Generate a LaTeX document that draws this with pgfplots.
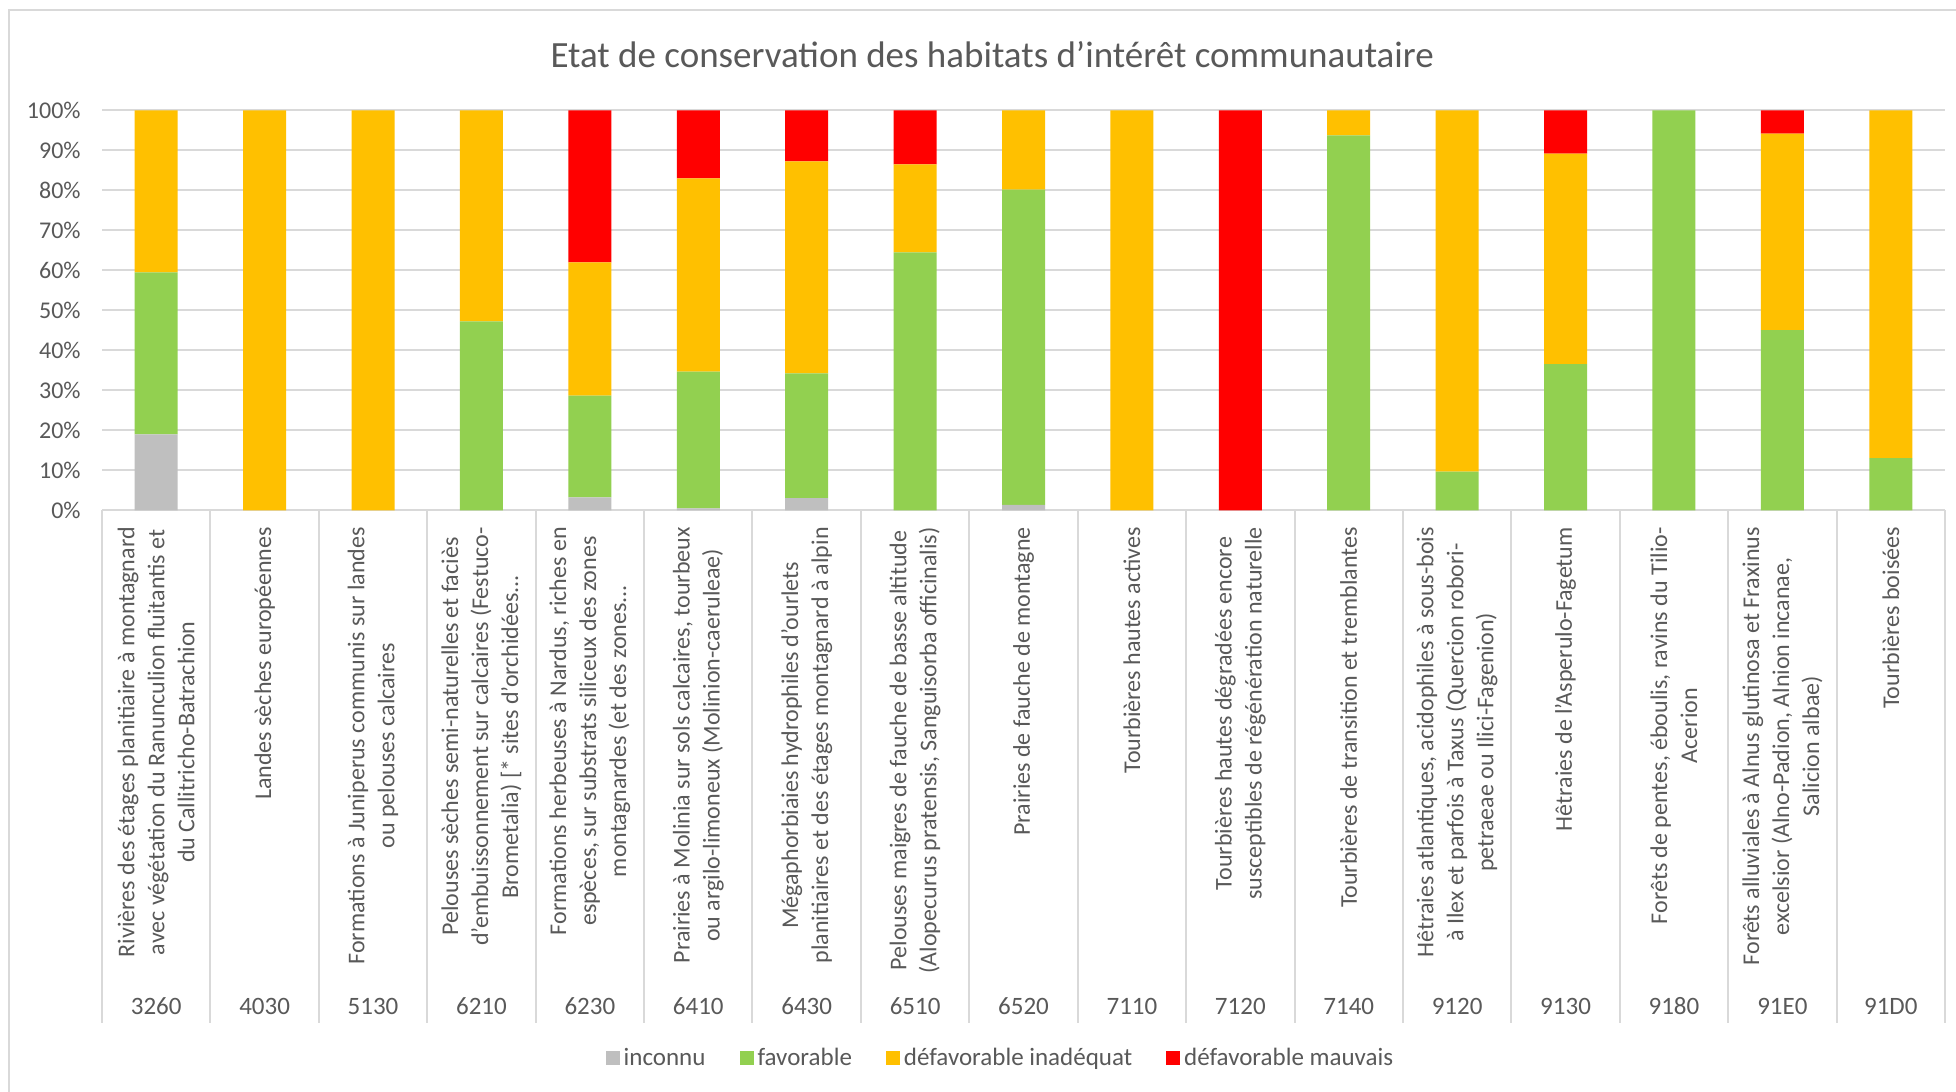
\documentclass[border=0pt]{standalone}
\usepackage{pgfplots}
\pgfplotsset{compat=1.18}
\usepackage{pgfplotstable}
\usepackage{fontspec}
\setmainfont{Carlito}
\definecolor{cgray}{HTML}{BFBFBF}
\definecolor{cgreen}{HTML}{92D050}
\definecolor{cyellow}{HTML}{FFC000}
\definecolor{cred}{HTML}{FF0000}
\definecolor{txt}{HTML}{595959}
\definecolor{gridc}{HTML}{D9D9D9}
\pgfplotstableread{
x inconnu favorable inadequat mauvais
0 19 40.5 40.5 0
1 0 0 100 0
2 0 0 100 0
3 0 47.3 52.7 0
4 3.3 25.4 33.3 38
5 0.5 34.2 48.3 17
6 3.1 31.2 53 12.7
7 0 64.5 22 13.5
8 1.4 78.8 19.8 0
9 0 0 100 0
10 0 0 0 100
11 0 93.8 6.2 0
12 0 9.7 90.3 0
13 0 36.6 52.6 10.8
14 0 100 0 0
15 0 45.1 49.1 5.8
16 0 13.1 86.9 0
}\datatable
\begin{document}
\begin{tikzpicture}
\useasboundingbox (0,0) rectangle (978pt,546pt);
\fill[white] (0,0) rectangle (978pt,546pt);
\draw[gridc, line width=1pt] (4.5pt,-5pt) -- (4.5pt,541pt) -- (990pt,541pt);
\begin{axis}[
  at={(51pt,290.75pt)}, anchor=south west,
  scale only axis, width=921.5pt, height=200pt,
  ybar stacked, bar width=21.5pt,
  xmin=-0.5, xmax=16.5, ymin=0, ymax=100,
  clip=false,
  axis line style={draw=none},
  xtick={0,...,16},
  xticklabels={3260,4030,5130,6210,6230,6410,6430,6510,6520,7110,7120,7140,9120,9130,9180,91E0,91D0},
  xticklabel style={anchor=center, yshift=-248pt, font=\fontsize{12.5}{15}\selectfont, text=txt},
  ytick={0,10,...,100},
  yticklabel={\pgfmathprintnumber[assume math mode=true]{\tick}\%},
  yticklabel style={anchor=east, inner sep=0pt, xshift=-10.5pt, font=\fontsize{12}{14}\selectfont, text=txt},
  major tick length=0pt,
  tick style={draw=none},
  ymajorgrids, grid style={gridc, line width=1pt},
  title={Etat de conservation des habitats d'intérêt communautaire},
  title style={at={(rel axis cs:0.483,1.109)}, anchor=center, font=\fontsize{18.5}{22}\selectfont, text=txt},
  legend columns=4,
  legend style={at={(rel axis cs:0.488,-1.369)}, anchor=center, draw=none, fill=none,
    font=\fontsize{12.5}{15}\selectfont, text=txt,
    /tikz/every even column/.append style={column sep=15pt}},
  legend image code/.code={\fill[#1] (0pt,-3.5pt) rectangle (7pt,3.5pt);},
]
\addplot[fill=cgray, draw=none] table[x=x,y=inconnu]{\datatable};
\addlegendentry{inconnu}
\addplot[fill=cgreen, draw=none] table[x=x,y=favorable]{\datatable};
\addlegendentry{favorable}
\addplot[fill=cyellow, draw=none] table[x=x,y=inadequat]{\datatable};
\addlegendentry{défavorable inadéquat}
\addplot[fill=cred, draw=none] table[x=x,y=mauvais]{\datatable};
\addlegendentry{défavorable mauvais}

\pgfplotsinvokeforeach{-0.5,0.5,1.5,2.5,3.5,4.5,5.5,6.5,7.5,8.5,9.5,10.5,11.5,12.5,13.5,14.5,15.5,16.5}{
  \draw[gridc, line width=1pt] (axis cs:#1,0) -- (axis cs:#1,-128.1);
}
\tikzset{lab/.style={rotate=90, anchor=east, align=center, inner sep=0pt, text=txt, font=\fontsize{12}{15}\selectfont}}
\node[lab] at (axis cs:0,-4.1) {Rivières des étages planitiaire à montagnard\\avec végétation du Ranunculion fluitantis et\\du Callitricho-Batrachion};
\node[lab] at (axis cs:1,-4.1) {Landes sèches européennes};
\node[lab] at (axis cs:2,-4.1) {Formations à Juniperus communis sur landes\\ou pelouses calcaires};
\node[lab] at (axis cs:3,-4.1) {Pelouses sèches semi-naturelles et faciès\\d'embuissonnement sur calcaires (Festuco-\\Brometalia) [* sites d'orchidées...};
\node[lab] at (axis cs:4,-4.1) {Formations herbeuses à Nardus, riches en\\espèces, sur substrats siliceux des zones\\montagnardes (et des zones...};
\node[lab] at (axis cs:5,-4.1) {Prairies à Molinia sur sols calcaires, tourbeux\\ou argilo-limoneux (Molinion-caeruleae)};
\node[lab] at (axis cs:6,-4.1) {Mégaphorbiaies hydrophiles d'ourlets\\planitiaires et des étages montagnard à alpin};
\node[lab] at (axis cs:7,-4.1) {Pelouses maigres de fauche de basse altitude\\(Alopecurus pratensis, Sanguisorba officinalis)};
\node[lab] at (axis cs:8,-4.1) {Prairies de fauche de montagne};
\node[lab] at (axis cs:9,-4.1) {Tourbières hautes actives};
\node[lab] at (axis cs:10,-4.1) {Tourbières hautes dégradées encore\\susceptibles de régénération naturelle};
\node[lab] at (axis cs:11,-4.1) {Tourbières de transition et tremblantes};
\node[lab] at (axis cs:12,-4.1) {Hêtraies atlantiques, acidophiles à sous-bois\\à Ilex et parfois à Taxus (Quercion robori-\\petraeae ou Ilici-Fagenion)};
\node[lab] at (axis cs:13,-4.1) {Hêtraies de l'Asperulo-Fagetum};
\node[lab] at (axis cs:14,-4.1) {Forêts de pentes, éboulis, ravins du Tilio-\\Acerion};
\node[lab] at (axis cs:15,-4.1) {Forêts alluviales à Alnus glutinosa et Fraxinus\\excelsior (Alno-Padion, Alnion incanae,\\Salicion albae)};
\node[lab] at (axis cs:16,-4.1) {Tourbières boisées};
\end{axis}
\end{tikzpicture}
\end{document}
